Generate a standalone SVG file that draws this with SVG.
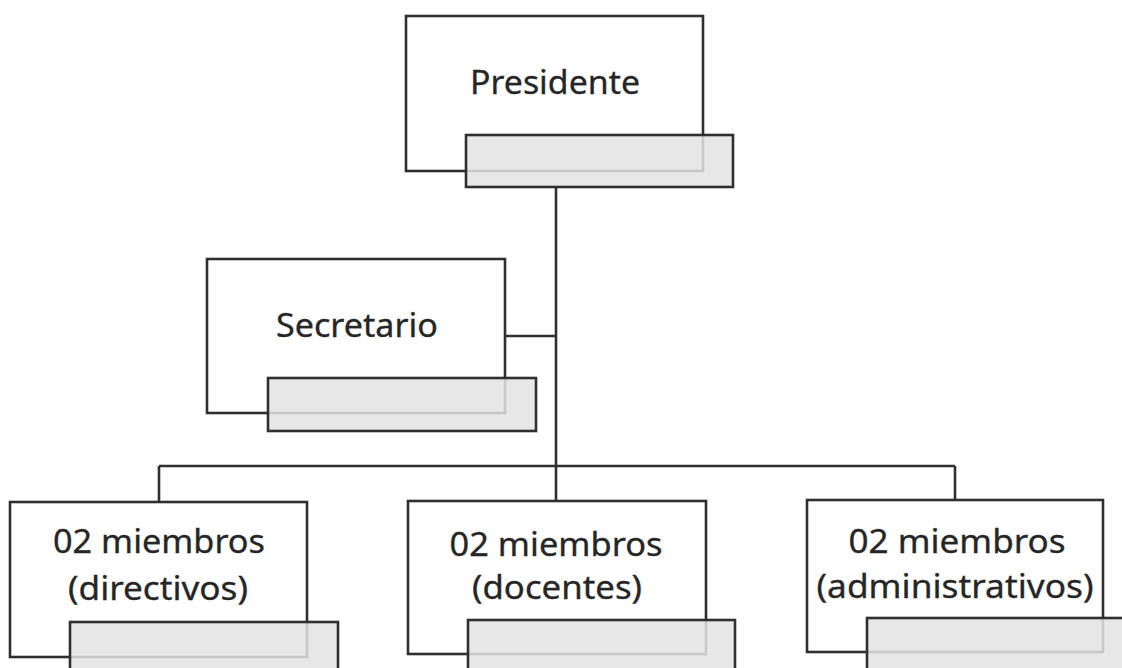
<svg xmlns="http://www.w3.org/2000/svg" width="1122" height="668" viewBox="0 0 1122 668">
<style>
.box{fill:#fff;stroke:#2f2f2f;stroke-width:2.6}
.tab{fill:#e3e3e3;fill-opacity:0.85;stroke:#2f2f2f;stroke-width:2.6}
.lbl{font-family:"Noto Sans","Open Sans",sans-serif;font-size:32px;fill:#262626;stroke:#262626;stroke-width:0.3;text-anchor:middle}
.con{fill:none;stroke:#2f2f2f;stroke-width:2.6}
</style>
<rect width="1122" height="668" fill="#fff"/>
<g id="connectors">
<path class="con" d="M556 187V466"/>
<path class="con" d="M505 336H556"/>
<path class="con" d="M159 466H955"/>
<path class="con" d="M159 466V502"/>
<path class="con" d="M556 466V501"/>
<path class="con" d="M955 466V500"/>
</g>
<g id="presidente">
<rect class="box" x="406" y="16" width="297" height="155"/>
<rect class="tab" x="466" y="135" width="267" height="52"/>
<text class="lbl" x="555" y="94" textLength="170" lengthAdjust="spacingAndGlyphs">Presidente</text>
</g>
<g id="secretario">
<rect class="box" x="207" y="259" width="298" height="154"/>
<rect class="tab" x="268" y="378" width="268" height="53"/>
<text class="lbl" x="357" y="337" textLength="162" lengthAdjust="spacingAndGlyphs">Secretario</text>
</g>
<g id="directivos">
<rect class="box" x="10" y="502" width="297" height="155"/>
<rect class="tab" x="70" y="622" width="268" height="60"/>
<text class="lbl" x="159" y="553" textLength="212" lengthAdjust="spacingAndGlyphs">02 miembros</text>
<text class="lbl" x="158" y="600" textLength="180" lengthAdjust="spacingAndGlyphs">(directivos)</text>
</g>
<g id="docentes">
<rect class="box" x="408" y="501" width="298" height="153"/>
<rect class="tab" x="468" y="620" width="267" height="60"/>
<text class="lbl" x="556" y="556" textLength="213" lengthAdjust="spacingAndGlyphs">02 miembros</text>
<text class="lbl" x="557" y="599" textLength="170" lengthAdjust="spacingAndGlyphs">(docentes)</text>
</g>
<g id="administrativos">
<rect class="box" x="807" y="500" width="296" height="152"/>
<rect class="tab" x="867" y="618" width="270" height="60"/>
<text class="lbl" x="957" y="553" textLength="217" lengthAdjust="spacingAndGlyphs">02 miembros</text>
<text class="lbl" x="955" y="598" textLength="277" lengthAdjust="spacingAndGlyphs">(administrativos)</text>
</g>
</svg>
